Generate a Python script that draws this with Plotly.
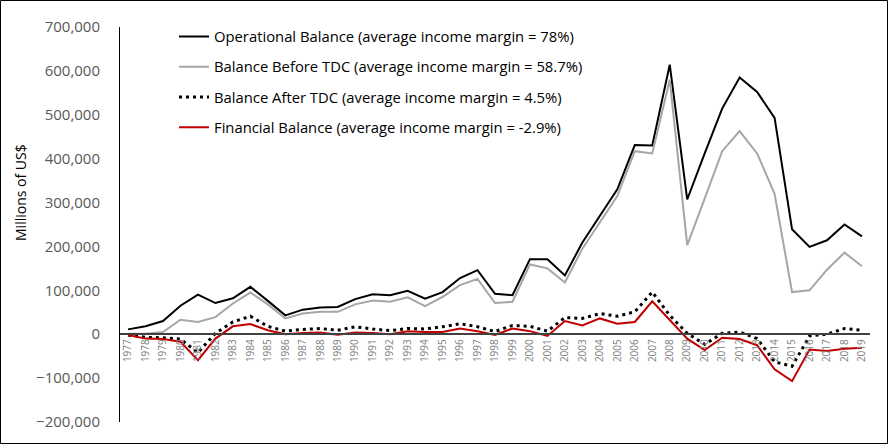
import plotly.graph_objects as go

years = list(range(1977, 2020))

operational = [11000, 18000, 30000, 65000, 90000, 71000, 82000, 108000, 76000, 43000,
               56000, 61000, 62000, 80000, 91000, 89000, 99000, 81000, 96000, 128000,
               146000, 92000, 89000, 171000, 171000, 134000, 209000, 269000, 330000, 431000,
               430000, 614000, 307000, 412000, 514000, 585000, 552000, 493000, 239000, 199000,
               214000, 250000, 223000]

before_tdc = [1000, 1000, 5000, 33000, 28000, 39000, 70000, 95000, 68000, 36000,
              47000, 51000, 51000, 68000, 77000, 74000, 84000, 64000, 85000, 112000,
              126000, 71000, 74000, 159000, 150000, 118000, 195000, 254000, 315000, 417000,
              412000, 580000, 203000, 309000, 417000, 463000, 412000, 320000, 96000, 100000,
              147000, 186000, 155000]

after_tdc = [-2000, -7000, -8000, -11000, -42000, 2000, 28000, 41000, 18000, 7000,
             11000, 13000, 9000, 17000, 12000, 8000, 13000, 12000, 17000, 24000,
             17000, 6000, 20000, 18000, 7000, 38000, 36000, 47000, 41000, 51000,
             96000, 43000, 2000, -23000, 2000, 5000, -10000, -63000, -73000, -4000,
             0, 13000, 9000]

financial = [-2000, -10000, -11000, -17000, -59000, -10000, 18000, 23000, 9000, 0,
             3000, 4000, -1000, 4000, 3000, 0, 7000, 5000, 5000, 13000,
             7000, -1500, 13000, 7000, -4000, 30000, 20000, 36000, 24000, 28000,
             75000, 33000, -10000, -36000, -8000, -11000, -25000, -80000, -107000, -35000,
             -38000, -33000, -31000]

names = ["Operational Balance (average income margin = 78%)",
         "Balance Before TDC (average income margin = 58.7%)",
         "Balance After TDC (average income margin = 4.5%)",
         "Financial Balance (average income margin = -2.9%)"]

y_title = "Millions of US$"

fig = go.Figure()
fig.add_trace(go.Scatter(x=years, y=operational, name=names[0], mode="lines",
                         line=dict(color="#000000", width=2), legendgroup="a"))
fig.add_trace(go.Scatter(x=years, y=before_tdc, name=names[1], mode="lines",
                         line=dict(color="#A6A6A6", width=2), legendgroup="b"))
fig.add_trace(go.Scatter(x=years, y=after_tdc, name=names[2], mode="lines",
                         line=dict(color="#000000", width=3, dash="3px,4px"), legendgroup="c"))
fig.add_trace(go.Scatter(x=years, y=financial, name=names[3], mode="lines",
                         line=dict(color="#C00000", width=2), legendgroup="d"))

L, R, T, B = 120, 18, 27, 22
W, H = 888, 444
pw, ph = W - L - R, H - T - B

fig.update_layout(
    width=W, height=H,
    margin=dict(l=L, r=R, t=T, b=B),
    paper_bgcolor="white", plot_bgcolor="white",
    font=dict(family="Open Sans", color="#000000"),
    showlegend=True,
    legend=dict(x=0.072, y=1.017, xanchor="left", yanchor="top",
                bgcolor="rgba(0,0,0,0)", font=dict(size=14.8, color="#000000"),
                tracegroupgap=8),
    xaxis=dict(range=[1976.54, 2019.46], tickvals=years, ticktext=[str(y) for y in years],
               tickangle=-90, tickfont=dict(size=10, color="#808080"),
               anchor="free", position=2/9, showline=True, linecolor="#404040", linewidth=2,
               showgrid=False, zeroline=False, ticks=""),
    yaxis=dict(range=[-200000, 700000], dtick=100000, tickformat=",",
               tickfont=dict(size=15, color="#595959"), showgrid=False, zeroline=False,
               showline=True, linecolor="#000000", linewidth=1, ticks="",
               ticklabelstandoff=16),
    annotations=[dict(text=y_title, xref="paper", yref="paper",
                      x=(20 - L) / pw, y=(H - B - 193) / ph, xanchor="center", yanchor="middle",
                      textangle=-90, showarrow=False, font=dict(size=14, color="#000000"))],
    shapes=[dict(type="rect", xref="paper", yref="paper",
                 x0=(0.5 - L) / pw, x1=(W - 0.5 - L) / pw,
                 y0=(H - B - (H - 0.5)) / ph, y1=(H - B - 0.5) / ph,
                 line=dict(color="#000000", width=1), layer="above")],
)

fig.write_html("out.html", config={"displayModeBar": False},
               post_script="document.body.style.margin='0';")
